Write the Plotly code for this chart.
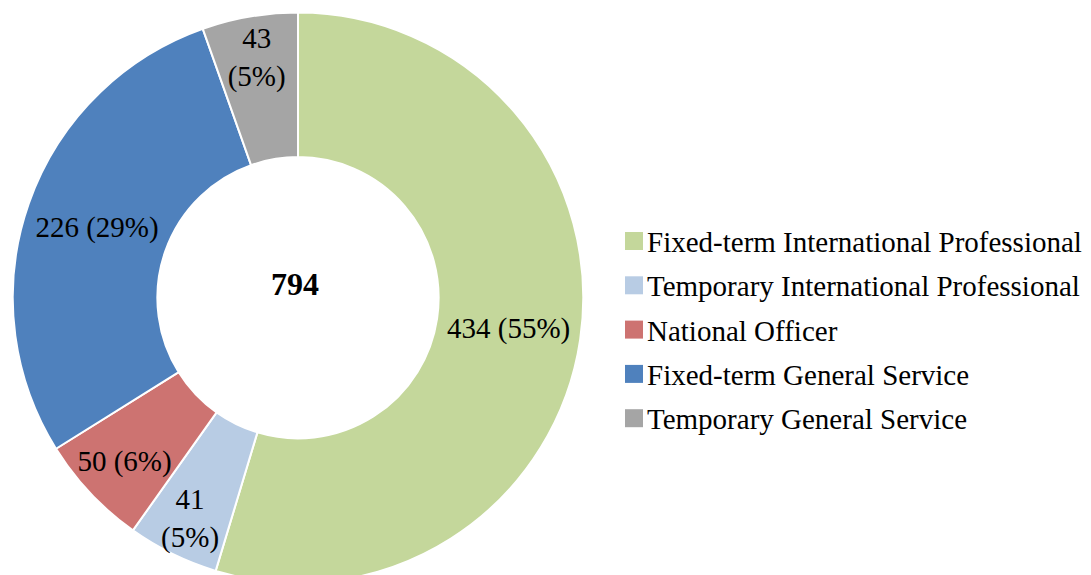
import plotly.graph_objects as go

categories = [
    "Fixed-term International Professional",
    "Temporary International Professional",
    "National Officer",
    "Fixed-term General Service",
    "Temporary General Service",
]
values = [434, 41, 50, 226, 43]
percents = [55, 5, 6, 29, 5]
colors = ["#C4D79B", "#B8CCE4", "#CD7371", "#4F81BD", "#A5A5A5"]
label_breaks = [" ", "<br>", " ", " ", "<br>"]

total = sum(values)
texts = [f"{v}{b}({p}%)" for v, b, p in zip(values, label_breaks, percents)]

W, H = 1091, 575
OFF = 8  # page body margin
FONT = "Liberation Serif, Times New Roman, serif"

# pie geometry in figure pixels
cx, cy, r = 298 - OFF, 298 - OFF, 285.5

fig = go.Figure(
    go.Pie(
        labels=categories,
        values=values,
        text=texts,
        textinfo="text",
        textposition="inside",
        insidetextorientation="horizontal",
        sort=False,
        direction="clockwise",
        rotation=0,
        hole=0.493,
        marker=dict(colors=colors, line=dict(color="white", width=2)),
        textfont=dict(family=FONT, size=29, color="black"),
        showlegend=False,
        hoverinfo="label+value+percent",
        domain=dict(
            x=[(cx - r) / W, (cx + r) / W],
            y=[max(0, 1 - (cy + r) / H), 1 - (cy - r) / H],
        ),
    )
)

# manual legend
leg_x0 = 625 - OFF
leg_y0 = 241 - OFF
leg_dy = 44.3
sq = 18
shapes = []
annotations = []
for i, (lab, col) in enumerate(zip(categories, colors)):
    yc = leg_y0 + i * leg_dy
    shapes.append(
        dict(
            type="rect",
            xref="paper",
            yref="paper",
            x0=leg_x0 / W,
            x1=(leg_x0 + sq) / W,
            y0=1 - (yc - sq / 2) / H,
            y1=1 - (yc + sq / 2) / H,
            fillcolor=col,
            line=dict(width=0),
        )
    )
    annotations.append(
        dict(
            text=lab,
            xref="paper",
            yref="paper",
            x=(leg_x0 + sq + 2) / W,
            y=1 - (yc + 1) / H,
            xanchor="left",
            yanchor="middle",
            showarrow=False,
            font=dict(family=FONT, size=29, color="black"),
        )
    )

# total in the hole
annotations.append(
    dict(
        text=f"<b>{total}</b>",
        xref="paper",
        yref="paper",
        x=(295 - OFF) / W,
        y=1 - (284 - OFF) / H,
        xanchor="center",
        yanchor="middle",
        showarrow=False,
        font=dict(family=FONT, size=32, color="black"),
    )
)

fig.update_layout(
    width=W,
    height=H,
    margin=dict(l=0, r=0, t=0, b=0),
    paper_bgcolor="white",
    plot_bgcolor="white",
    shapes=shapes,
    annotations=annotations,
    uniformtext=dict(minsize=29, mode="show"),
)

fig.write_html("out.html")
